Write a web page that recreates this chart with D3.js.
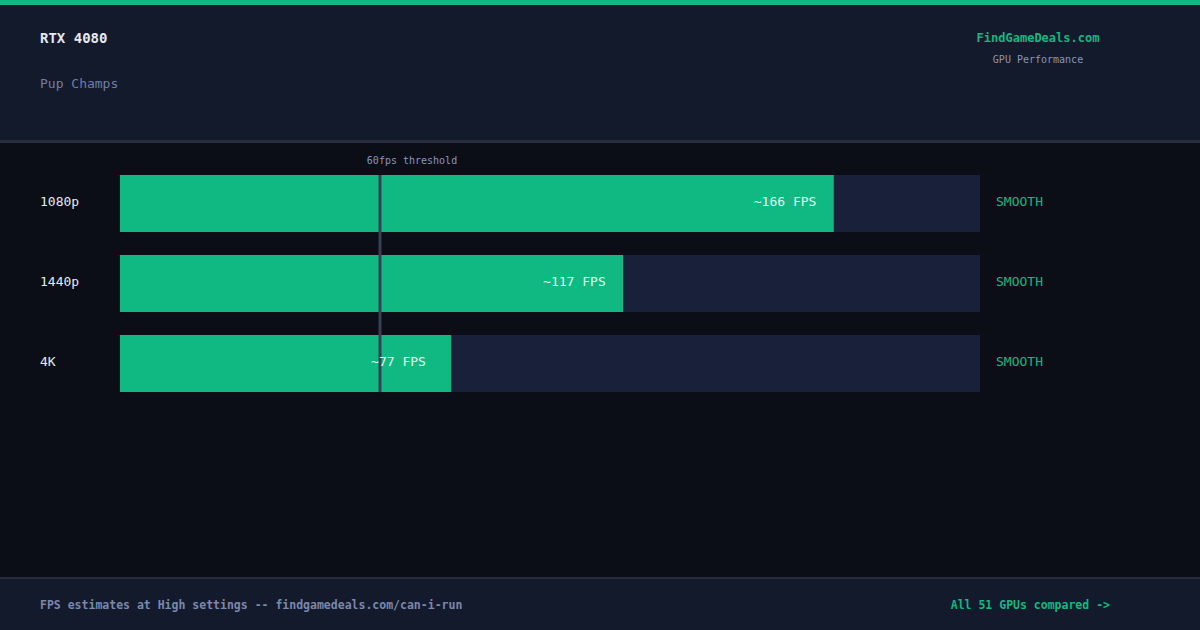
<!DOCTYPE html><html><head><meta charset="utf-8">
<script src="https://cdn.jsdelivr.net/npm/d3@7"></script>
<style>body{margin:0;background:#0b0e17}svg{display:block}</style></head><body>
<svg id="c" width="1200" height="630"></svg>
<script>
const categories=["1080p","1440p","4K"];
const fps=[166,117,77];
const statusLabels=["SMOOTH","SMOOTH","SMOOTH"];
const threshold=60;
const maxFps=200;
const F="'DejaVu Sans Mono',monospace";
const svg=d3.select("#c");
svg.append("rect").attr("width",1200).attr("height",630).attr("fill","#0b0e17");
svg.append("rect").attr("width",1200).attr("height",141).attr("fill","#131a2b");
svg.append("rect").attr("width",1200).attr("height",5).attr("fill","#10b981");
svg.append("rect").attr("y",140).attr("width",1200).attr("height",3).attr("fill","#262d3d");
svg.append("rect").attr("y",578).attr("width",1200).attr("height",52).attr("fill","#131a2b");
svg.append("rect").attr("y",577).attr("width",1200).attr("height",2).attr("fill","#262d3d");
const t=(x,y,s,c,txt,o={})=>svg.append("text").attr("x",x).attr("y",y).attr("font-family",F).attr("font-size",s).attr("fill",c).attr("font-weight",o.w||"normal").attr("text-anchor",o.a||"start").text(txt);
t(40,43,14,"#e6e9f2","RTX 4080",{w:"bold"});
t(40,88,13,"#6f7ea6","Pup Champs");
t(1038,42,12,"#10b981","FindGameDeals.com",{w:"bold",a:"middle"});
t(1038,63,10,"#8a96b8","GPU Performance",{a:"middle"});
const x=d3.scaleLinear().domain([0,maxFps]).range([120,980]);
const bh=57;
categories.forEach((c,i)=>{
  const yy=175+i*80;
  svg.append("rect").attr("x",x(0)).attr("y",yy).attr("width",x(maxFps)-x(0)).attr("height",bh).attr("fill","#19213a");
  svg.append("rect").attr("x",x(0)).attr("y",yy).attr("width",x(fps[i])-x(0)).attr("height",bh).attr("fill","#10b981");
});
svg.append("rect").attr("x",x(threshold)+0.5).attr("y",175).attr("width",3).attr("height",217).attr("fill","#374151");
categories.forEach((c,i)=>{
  const yy=175+i*80;
  t(40,yy+bh/2+2,13,"#e6e9f2",c);
  t(x(fps[i])-80,yy+bh/2+2,13,"#e6f5ee","~"+fps[i]+" FPS");
  t(996,yy+bh/2+2,13,"#10b981",statusLabels[i]);
});
t(x(threshold)+34,164,10,"#8a96b8","60fps threshold",{a:"middle"});
t(40,609,11.5,"#7a88ad","FPS estimates at High settings -- findgamedeals.com/can-i-run",{w:"bold"});
t(1110,609,11.5,"#10b981","All 51 GPUs compared ->",{w:"bold",a:"end"});
</script></body></html>
